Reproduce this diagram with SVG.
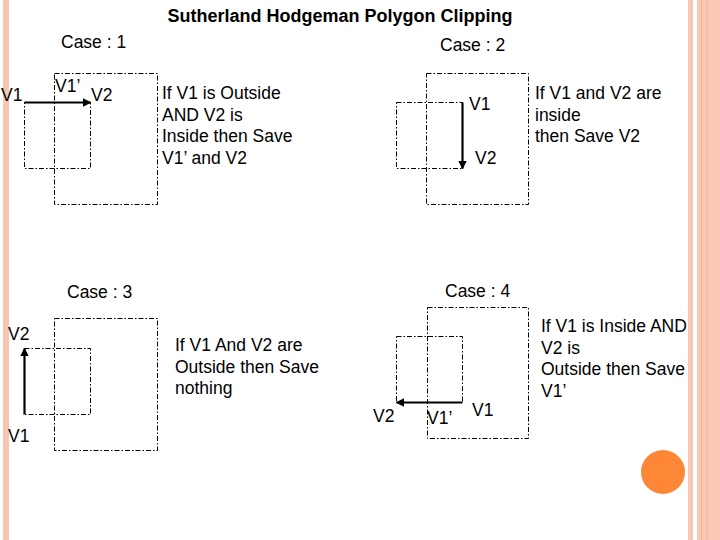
<svg xmlns="http://www.w3.org/2000/svg" width="720" height="540" viewBox="0 0 720 540">
<style>
text{font-family:"Liberation Sans",Arial,sans-serif;font-size:17.5px;fill:#000}
.title{font-weight:bold;font-size:18px}
.box{fill:none;stroke:#000;stroke-width:1;stroke-dasharray:5 2 1.5 2}
.arrow{stroke:#000;stroke-width:2.2;fill:none;marker-end:url(#ah)}
</style>
<defs>
<marker id="ah" viewBox="0 0 10 10" refX="9" refY="5" markerWidth="4" markerHeight="4" orient="auto" markerUnits="strokeWidth">
<path d="M0,0 L10,5 L0,10 z" fill="#000"/>
</marker>
</defs>
<rect width="720" height="540" fill="#fff"/>
<g id="decor">
<rect x="3" y="0" width="6" height="540" fill="#F8C6B3"/>
<rect x="688" y="0" width="5" height="540" fill="#F9C8B5"/>
<rect x="697" y="0" width="23" height="540" fill="#FAC8B5"/>
<rect x="701" y="0" width="1" height="540" fill="#F4AC90"/>
<rect x="706.5" y="0" width="1" height="540" fill="#F4AC90"/>
<circle cx="663" cy="472" r="22" fill="#FD8637"/>
</g>
<text class="title" x="340" y="22" text-anchor="middle">Sutherland Hodgeman Polygon Clipping</text>
<g id="case1">
<text x="61" y="48">Case : 1</text>
<rect class="box" x="54.5" y="73.5" width="103" height="131"/>
<rect class="box" x="24.5" y="102.5" width="66" height="66"/>
<text x="1" y="101">V1</text>
<text x="55" y="92">V1’</text>
<text x="91" y="101">V2</text>
<text x="162" y="99">If V1 is Outside</text>
<text x="162" y="120.5">AND V2 is</text>
<text x="162" y="142">Inside then Save</text>
<text x="162" y="163.5">V1’ and V2</text>
</g>
<g id="case2">
<text x="440" y="51">Case : 2</text>
<rect class="box" x="426.5" y="73.5" width="102" height="131"/>
<rect class="box" x="396.5" y="102.5" width="66" height="66"/>
<text x="469" y="110">V1</text>
<text x="475" y="164">V2</text>
<text x="535" y="99">If V1 and V2 are</text>
<text x="535" y="120.5">inside</text>
<text x="535" y="142">then Save V2</text>
</g>
<g id="case3">
<text x="67" y="298">Case : 3</text>
<rect class="box" x="54.5" y="318.5" width="103" height="132"/>
<rect class="box" x="24.5" y="348.5" width="66" height="66"/>
<text x="8" y="340">V2</text>
<text x="8" y="442">V1</text>
<text x="175" y="351">If V1 And V2 are</text>
<text x="175" y="372.5">Outside then Save</text>
<text x="175" y="394">nothing</text>
</g>
<g id="case4">
<text x="445" y="297">Case : 4</text>
<rect class="box" x="427.5" y="307.5" width="101" height="131"/>
<rect class="box" x="396.5" y="336.5" width="66" height="66"/>
<text x="373" y="422">V2</text>
<text x="427" y="424">V1’</text>
<text x="472" y="416">V1</text>
<text x="541" y="332">If V1 is Inside AND</text>
<text x="541" y="353.5">V2 is</text>
<text x="541" y="375">Outside then Save</text>
<text x="541" y="396.5">V1’</text>
</g>
<g id="connectors">
<line class="arrow" x1="24.5" y1="102.5" x2="90.5" y2="102.5"/>
<line class="arrow" x1="462.5" y1="102.5" x2="462.5" y2="168.5"/>
<line class="arrow" x1="24.5" y1="414.5" x2="24.5" y2="348.5"/>
<line class="arrow" x1="462.5" y1="402.5" x2="396.5" y2="402.5"/>
</g>
</svg>
